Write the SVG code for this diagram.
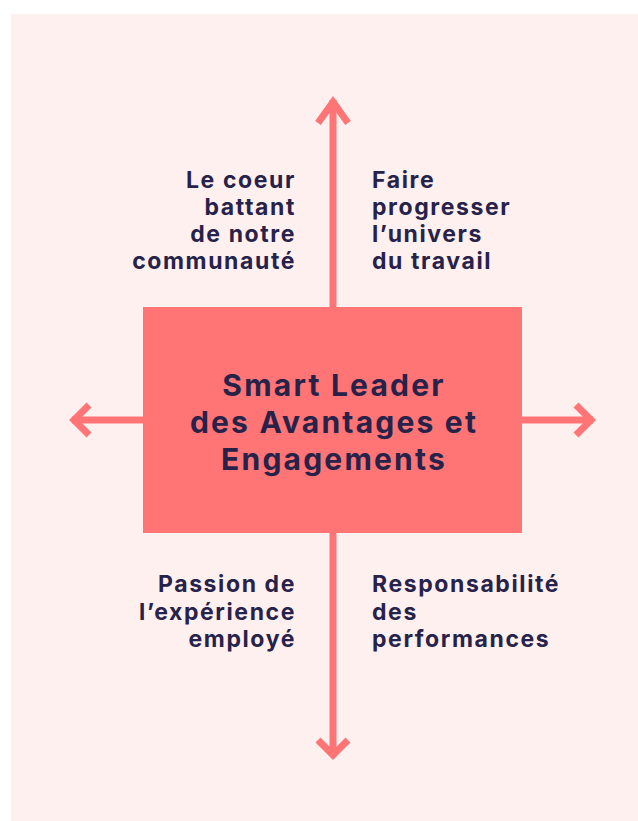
<svg xmlns="http://www.w3.org/2000/svg" width="638" height="821" viewBox="0 0 638 821">
<style>
.lbl{font-family:"Inter","Liberation Sans",sans-serif;font-weight:700;fill:#27224a;font-size:23px;letter-spacing:1.6px}
.ttl{font-family:"Inter","Liberation Sans",sans-serif;font-weight:700;fill:#27224a;font-size:30px;letter-spacing:2.2px;text-anchor:middle}
.ln{stroke:#ff7474;stroke-width:7;fill:none}
.hd{stroke:#ff7474;stroke-width:7;fill:none;stroke-linecap:butt;stroke-linejoin:miter}
</style>
<rect x="11" y="14" width="627" height="807" fill="#fff0f0"/>
<g id="connectors">
<line class="ln" x1="333" y1="100" x2="333" y2="310"/>
<polyline class="hd" points="318,123 333,102 348,123"/>
<line class="ln" x1="333" y1="530" x2="333" y2="756"/>
<polyline class="hd" points="318,740 333,755 348,740"/>
<line class="ln" x1="72" y1="420" x2="146" y2="420"/>
<polyline class="hd" points="89,405 74,420 89,435"/>
<line class="ln" x1="519" y1="420" x2="593" y2="420"/>
<polyline class="hd" points="576,405 591,420 576,435"/>
</g>
<g id="center">
<rect x="143" y="307" width="379" height="226" fill="#ff7474"/>
<text class="ttl"><tspan x="334" y="396">Smart Leader</tspan><tspan x="334" y="433">des Avantages et</tspan><tspan x="334" y="470">Engagements</tspan></text>
</g>
<g id="top-left">
<text class="lbl" text-anchor="end"><tspan x="296" y="188">Le coeur</tspan><tspan x="296" y="215">battant</tspan><tspan x="296" y="242">de notre</tspan><tspan x="296" y="269">communauté</tspan></text>
</g>
<g id="top-right">
<text class="lbl"><tspan x="372" y="188">Faire</tspan><tspan x="372" y="215">progresser</tspan><tspan x="372" y="242">l’univers</tspan><tspan x="372" y="269">du travail</tspan></text>
</g>
<g id="bottom-left">
<text class="lbl" text-anchor="end"><tspan x="296" y="592">Passion de</tspan><tspan x="296" y="620">l’expérience</tspan><tspan x="296" y="647">employé</tspan></text>
</g>
<g id="bottom-right">
<text class="lbl"><tspan x="372" y="592">Responsabilité</tspan><tspan x="372" y="620">des</tspan><tspan x="372" y="647">performances</tspan></text>
</g>
</svg>
